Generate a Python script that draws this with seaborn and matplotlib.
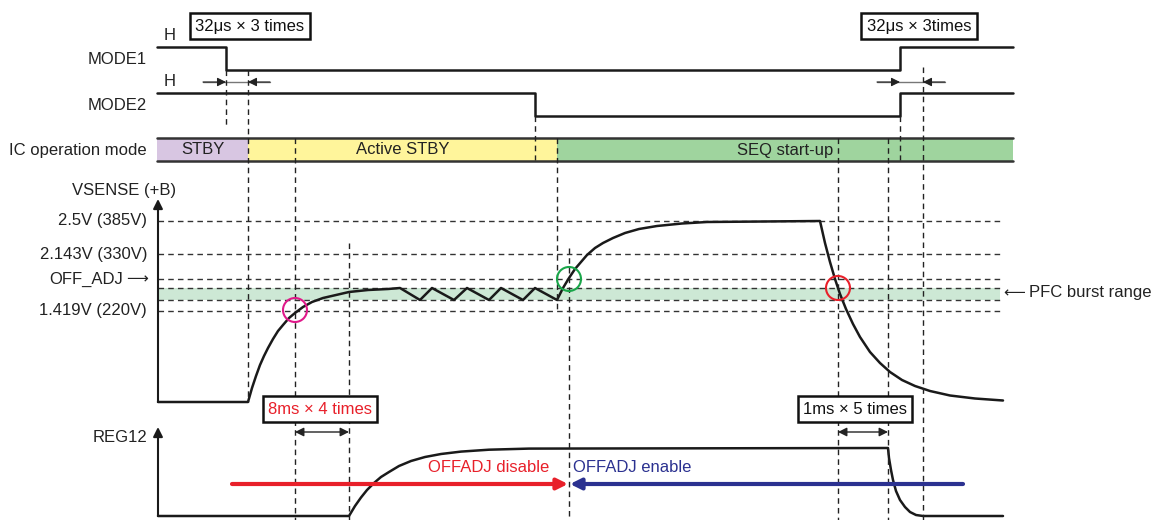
import numpy as np
import pandas as pd
import seaborn as sns
import matplotlib.pyplot as plt
from matplotlib.patches import Rectangle, Circle

# Diagram laid out in picture units (x to the right, y downward)
mode1_x = [157, 226, 226, 900, 900, 1013]
mode1_y = [47, 47, 70, 70, 47, 47]
mode2_x = [157, 535, 535, 900, 900, 1013]
mode2_y = [93, 93, 116, 116, 93, 93]

phase_names = ["STBY", "Active STBY", "SEQ start-up"]
phase_start = [157, 248, 557]
phase_end = [248, 557, 1013]
phase_colors = ["#d8c6e2", "#fff59b", "#9fd49e"]

vsense_x = [158, 248, 252, 256, 260, 264, 268, 273, 278, 283, 289, 295, 303, 312, 323, 336, 349, 368, 388, 400,
            420, 432, 454, 467, 489, 501, 523, 535, 557,
            563, 569, 575, 581, 587, 595, 603, 613, 625, 639, 657, 682, 707, 820,
            825, 830, 835, 840, 846, 853, 860, 870, 880, 890, 902, 915, 930, 950, 975, 1003]
vsense_y = [402, 402, 388, 376, 365, 356, 348, 339, 331, 325, 318, 313, 307, 302, 298, 295, 292, 290, 289, 288,
            300, 288, 300, 288, 300, 288, 300, 288, 300,
            288, 278, 269, 262, 255, 248, 243, 238, 233, 229, 226, 223.5, 222, 221,
            243, 262, 279, 294, 309, 324, 337, 352, 363, 372, 380, 386, 391, 395.5, 398.5, 400.5]

reg12_x = [158, 349, 355, 361, 367, 374, 381, 389, 399, 411, 425, 441, 461, 489, 529, 888,
           889, 891, 893, 896, 900, 905, 910, 916, 923, 1003]
reg12_y = [516, 516, 506, 497.5, 490, 483, 477, 472, 466, 461, 457, 454, 451.6, 449.7, 448.6, 448,
           458, 470, 480, 491, 500, 507, 512, 515, 516, 516]

level_labels = ["2.5V (385V)", "2.143V (330V)", "OFF_ADJ", "1.419V (220V)"]
level_y = [221, 254, 279, 311]
band_top, band_bottom = 288, 300

# dashed markers: (x, y_top, y_bottom)
vline_x = [226, 248, 295, 349, 535, 557, 569, 838, 888, 900, 923]
vline_top = [70, 70, 138, 243, 116, 138, 248, 138, 138, 116, 67]
vline_bot = [128, 402, 520, 520, 160, 313, 520, 520, 520, 160, 520]

sns.set_theme(style="white")
plt.rcParams['font.family'] = ['Liberation Sans', 'DejaVu Sans']

fig = plt.figure(figsize=(11.64, 5.2), dpi=100)
ax = fig.add_axes([0, 0, 1, 1])

fs = 12
ink = "#222222"
dash = (0, (4, 3))

# PFC burst band
ax.add_patch(Rectangle((158, band_top), 1000 - 158, band_bottom - band_top,
                       color="#cde8d5", lw=0, zorder=0))
for y in level_y + [band_top, band_bottom]:
    ax.plot([158, 1000], [y, y], color="#333333", lw=1, linestyle=dash, zorder=1)

for x, t, b in zip(vline_x, vline_top, vline_bot):
    ax.plot([x, x], [t, b], color=ink, lw=1, linestyle=dash, zorder=3)

# operation mode bar
for name, s, e, c in zip(phase_names, phase_start, phase_end, phase_colors):
    ax.add_patch(Rectangle((s, 138), e - s, 23, color=c, lw=0, zorder=1))
    ax.text((s + e) / 2, 150, name, ha='center', va='center', fontsize=fs, color=ink, zorder=4)
for y in [138, 161]:
    ax.plot([157, 1013], [y, y], color="#333333", lw=1.8, zorder=2)

# signals
sig = dict(color="#1a1a1a", linewidth=1.8, estimator=None, sort=False, ax=ax, legend=False)
sns.lineplot(data=pd.DataFrame({"x": mode1_x, "y": mode1_y}), x="x", y="y", **sig)
sns.lineplot(data=pd.DataFrame({"x": mode2_x, "y": mode2_y}), x="x", y="y", **sig)
sns.lineplot(data=pd.DataFrame({"x": vsense_x, "y": vsense_y}), x="x", y="y", **sig)
sns.lineplot(data=pd.DataFrame({"x": reg12_x, "y": reg12_y}), x="x", y="y", **sig)
ax.set_xlim(0, 1164)
ax.set_ylim(520, 0)
ax.axis('off')

# y axes with arrows
for top, bot in [(199, 402), (427, 516)]:
    ax.annotate('', xy=(158, top), xytext=(158, bot),
                arrowprops=dict(arrowstyle='-|>', color="#1a1a1a", lw=1.5,
                                mutation_scale=14, shrinkA=0, shrinkB=0))

# labels
ax.text(147, 60, "MODE1", ha='right', va='center', fontsize=fs, color=ink)
ax.text(147, 106, "MODE2", ha='right', va='center', fontsize=fs, color=ink)
ax.text(147, 150, "IC operation mode", ha='right', va='center', fontsize=fs, color=ink)
ax.text(176, 190, "VSENSE (+B)", ha='right', va='center', fontsize=fs, color=ink)
ax.text(147, 437, "REG12", ha='right', va='center', fontsize=fs, color=ink)
ax.text(164, 36, "H", ha='left', va='center', fontsize=fs, color=ink)
ax.text(164, 82, "H", ha='left', va='center', fontsize=fs, color=ink)
for lab, y in zip(level_labels, level_y):
    xr = 123 if lab == "OFF_ADJ" else 147
    ax.text(xr, y, lab, ha='right', va='center', fontsize=fs, color=ink)
ax.text(148, 279, "\u27f6", ha='right', va='center', fontsize=11, color=ink, family=['DejaVu Sans'])
ax.text(1003, 293, "\u27f5", ha='left', va='center', fontsize=11, color=ink, family=['DejaVu Sans'])
ax.text(1029, 293, "PFC burst range", ha='left', va='center', fontsize=fs, color=ink)

# boxed notes
boxes = [(250, 26, "32\u03bcs \u00d7 3 times", "#111111"),
         (919, 26, "32\u03bcs \u00d7 3times", "#111111"),
         (320, 409, "8ms \u00d7 4 times", "#e8202a"),
         (855, 409, "1ms \u00d7 5 times", "#111111")]
for x, y, s, c in boxes:
    ax.text(x, y, s, ha='center', va='center', fontsize=fs, color=c,
            bbox=dict(boxstyle='square,pad=0.32', fc='white', ec='#111111', lw=1.8))

# small timing arrows
for x0, x1 in [(226, 248), (900, 923)]:
    ax.plot([x0 - 23, x1 + 22], [82, 82], color="#777777", lw=1)
    ax.annotate('', xy=(x0, 82), xytext=(x0 - 23, 82),
                arrowprops=dict(arrowstyle='-|>', color=ink, lw=0.8, mutation_scale=13, shrinkA=0, shrinkB=0))
    ax.annotate('', xy=(x1, 82), xytext=(x1 + 22, 82),
                arrowprops=dict(arrowstyle='-|>', color=ink, lw=0.8, mutation_scale=13, shrinkA=0, shrinkB=0))
for x0, x1 in [(295, 349), (838, 888)]:
    ax.annotate('', xy=(x1, 432), xytext=(x0, 432),
                arrowprops=dict(arrowstyle='<|-|>', color=ink, lw=1, mutation_scale=13, shrinkA=0, shrinkB=0))

# OFFADJ arrows
ax.annotate('', xy=(568, 484), xytext=(232, 484),
            arrowprops=dict(arrowstyle='-|>', color="#e8202a", lw=3, mutation_scale=16, shrinkA=0, shrinkB=0))
ax.annotate('', xy=(570, 484), xytext=(963, 484),
            arrowprops=dict(arrowstyle='-|>', color="#2b3190", lw=3, mutation_scale=16, shrinkA=0, shrinkB=0))
ax.text(549, 467, "OFFADJ disable", ha='right', va='center', fontsize=fs, color="#e8202a")
ax.text(573, 467, "OFFADJ enable", ha='left', va='center', fontsize=fs, color="#2b3190")

# marker circles
for cx, cy, c in [(295, 310, "#e0198a"), (569, 279, "#1aa64a"), (838, 288, "#e8202a")]:
    ax.add_patch(Circle((cx, cy), 12, fill=False, ec=c, lw=1.5, zorder=5))

fig.savefig("out.png", dpi=100)
